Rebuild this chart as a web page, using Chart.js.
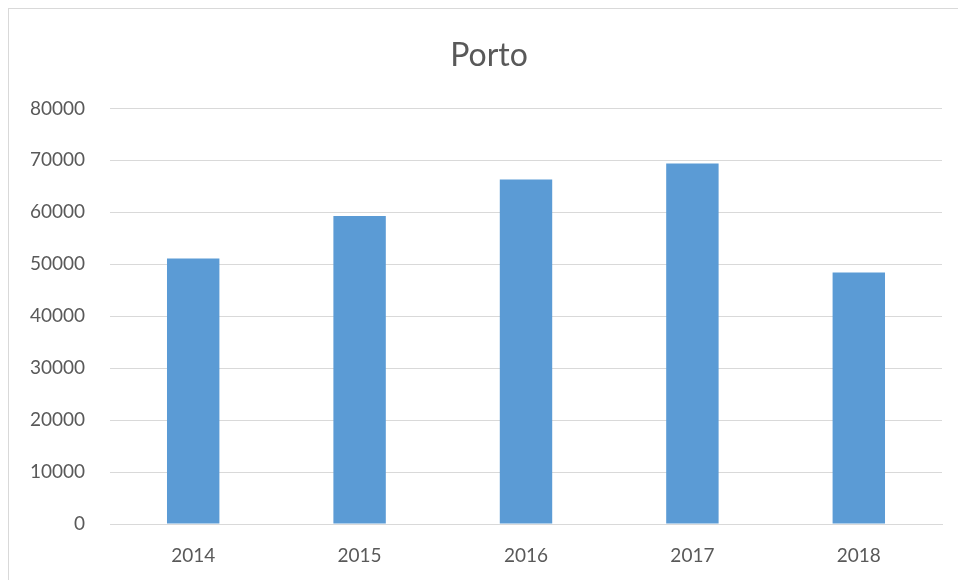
<!DOCTYPE html>
<html>
<head>
<meta charset="utf-8">
<script src="https://cdn.jsdelivr.net/npm/chart.js@4"></script>
<style>
  html, body { margin: 0; padding: 0; background: #fff; }
  #wrap { position: relative; width: 958px; height: 580px; overflow: hidden; }
  #frame { position: absolute; left: 8px; top: 8px; width: 1000px; height: 1000px; border: 1px solid #d9d9d9; box-sizing: border-box; }
  canvas { position: absolute; left: 0; top: 0; }
</style>
</head>
<body>
<div id="wrap">
  <div id="frame"></div>
  <canvas id="chart" width="958" height="580"></canvas>
</div>
<script>
const years = ['2014', '2015', '2016', '2017', '2018'];
const visitors = [51100, 59300, 66300, 69400, 48400];
const yTicks = [0, 10000, 20000, 30000, 40000, 50000, 60000, 70000, 80000];

// title in the original is centred over the whole frame, not the canvas minus padding
const shiftTitle = {
    id: 'shiftTitle',
    afterLayout(chart) {
        const t = chart.titleBlock;
        if (t) { t.left += 36; t.right += 0; }
    }
};

const ctx = document.getElementById('chart').getContext('2d');
new Chart(ctx, {
    type: 'bar',
    data: {
        labels: years,
        datasets: [{
            label: 'Porto',
            data: visitors,
            backgroundColor: '#5B9BD5',
            barPercentage: 0.315,
            categoryPercentage: 1
        }]
    },
    options: {
        responsive: false,
        animation: false,
        layout: { padding: { left: 0, right: 16, top: 0, bottom: 0 } },
        plugins: {
            legend: { display: false },
            tooltip: { enabled: false },
            title: {
                display: true,
                text: 'Porto',
                color: '#595959',
                font: { family: 'Lato', size: 32, weight: 'normal' },
                padding: { top: 36, bottom: 34 }
            }
        },
        scales: {
            x: {
                grid: { display: false, drawTicks: false },
                border: { display: true, color: '#d9d9d9' },
                ticks: { color: '#595959', font: { family: 'Lato', size: 19 }, padding: 20 },
                afterFit: (axis) => { axis.height = 56; }
            },
            y: {
                min: 0,
                max: 80000,
                afterBuildTicks: (axis) => { axis.ticks = yTicks.map(v => ({ value: v })); },
                grid: { color: '#d9d9d9', drawTicks: false },
                border: { display: false },
                ticks: {
                    color: '#595959',
                    font: { family: 'Lato', size: 19 },
                    padding: 25,
                    callback: (v) => String(v)
                },
                afterFit: (axis) => { axis.width = 110; }
            }
        }
    },
    plugins: [shiftTitle]
});
</script>
</body>
</html>
